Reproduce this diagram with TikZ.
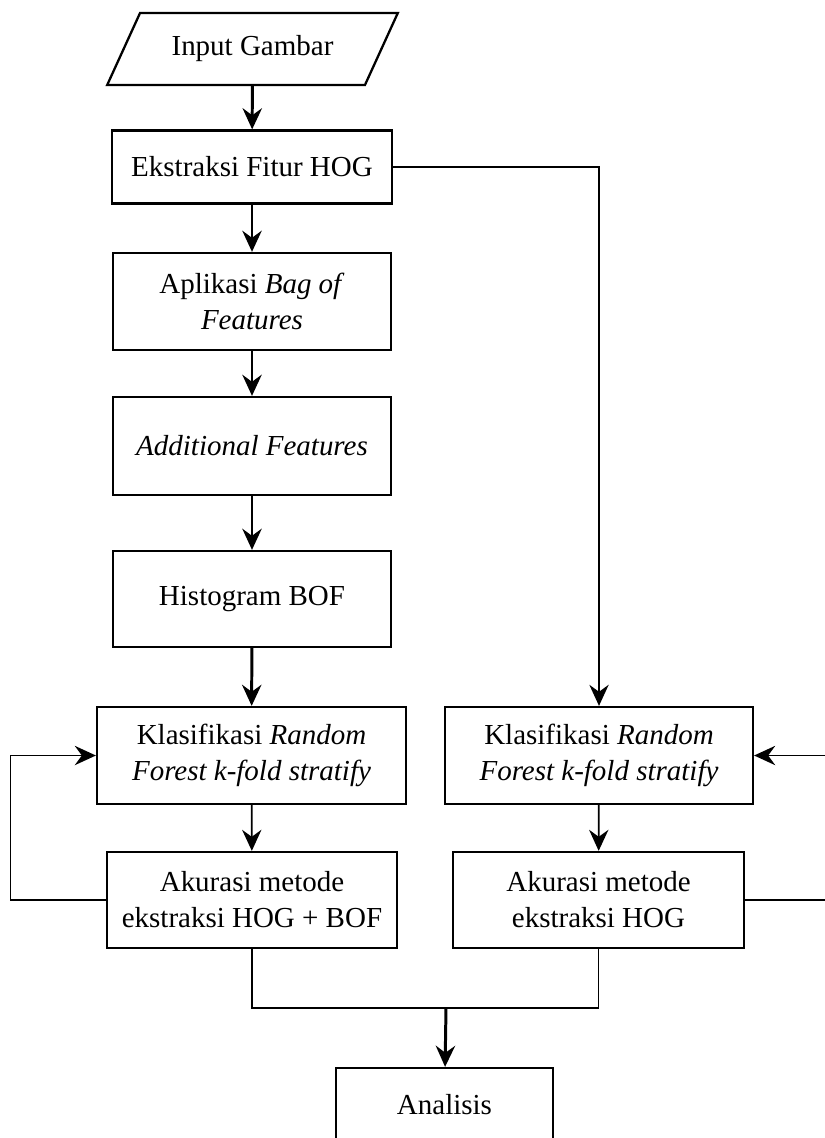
\documentclass[tikz,border=0pt]{standalone}
\usepackage{fontspec}
\setmainfont{Liberation Serif}
\usepackage{tikz}
\usetikzlibrary{positioning, arrows.meta, shapes.geometric}

\begin{document}
\begin{tikzpicture}[x=0.02cm, y=-0.02cm,
        box/.style={rectangle, draw, line width=1.3pt, inner sep=2pt, text centered, align=center, font=\fontsize{16.5}{20.5}\selectfont},
        io/.style={trapezium, draw, line width=1.3pt, trapezium left angle=56.3, trapezium right angle=123.7, trapezium stretches=true, minimum width=5.82cm, minimum height=1.44cm, font=\fontsize{16.5}{20.5}\selectfont},
        flow/.style={-{Stealth[length=12pt, width=11pt, inset=4pt]}, line width=1.7pt},
        link/.style={-{Stealth[length=12pt, width=11pt, inset=4pt]}, line width=1.0pt}]
      \useasboundingbox (0,0) rectangle (824,1138);
      % Left column
      \node[io] (input) at (252.5,49) {Input Gambar};
      \node[box, minimum width=5.6cm, minimum height=1.46cm] (hog) at (252,167) {Ekstraksi Fitur HOG};
      \node[box, minimum width=5.56cm, minimum height=1.94cm] (bag) at (252,301.5) {Aplikasi \textit{Bag of}\\\textit{Features}};
      \node[box, minimum width=5.56cm, minimum height=1.96cm] (addf) at (252,446) {\textit{Additional Features}};
      \node[box, minimum width=5.56cm, minimum height=1.92cm] (hist) at (252,599) {Histogram BOF};
      \node[box, minimum width=6.18cm, minimum height=1.94cm] (klasL) at (251.5,755.5) {Klasifikasi \textit{Random}\\\textit{Forest k-fold stratify}};
      \node[box, minimum width=5.8cm, minimum height=1.92cm] (akurL) at (252,900) {Akurasi metode\\ekstraksi HOG + BOF};

      % Right column
      \node[box, minimum width=6.16cm, minimum height=1.94cm] (klasR) at (599,755.5) {Klasifikasi \textit{Random}\\\textit{Forest k-fold stratify}};
      \node[box, minimum width=5.82cm, minimum height=1.92cm] (akurR) at (598.5,900) {Akurasi metode\\ekstraksi HOG};

      % Bottom
      \node[box, minimum width=4.34cm, minimum height=1.48cm] (ana) at (444.5,1105) {Analisis};

      \coordinate (loopL) at (10.5,900);
      \coordinate (loopR) at (840,900);
      \coordinate (merge) at (446,1008);

      \draw[flow] (input) -- (hog);
      \draw[flow] (hog) -- (bag);
      \draw[flow] (bag) -- (addf);
      \draw[flow] (addf) -- (hist);
      \draw[flow] (hist) -- (klasL);
      \draw[link] (klasL) -- (akurL);
      \draw[link] (klasR) -- (akurR);
      \draw[link] (hog.east) -| (klasR.north);
      \draw[link] (akurL.west) -- (loopL) |- (klasL.west);
      \draw[link] (akurR.east) -- (loopR) |- (klasR.east);
      \draw[line width=1.0pt] (akurL.south) |- (merge) -| (akurR.south);
      \draw[flow] (merge) -- (ana);
    \end{tikzpicture}
\end{document}
